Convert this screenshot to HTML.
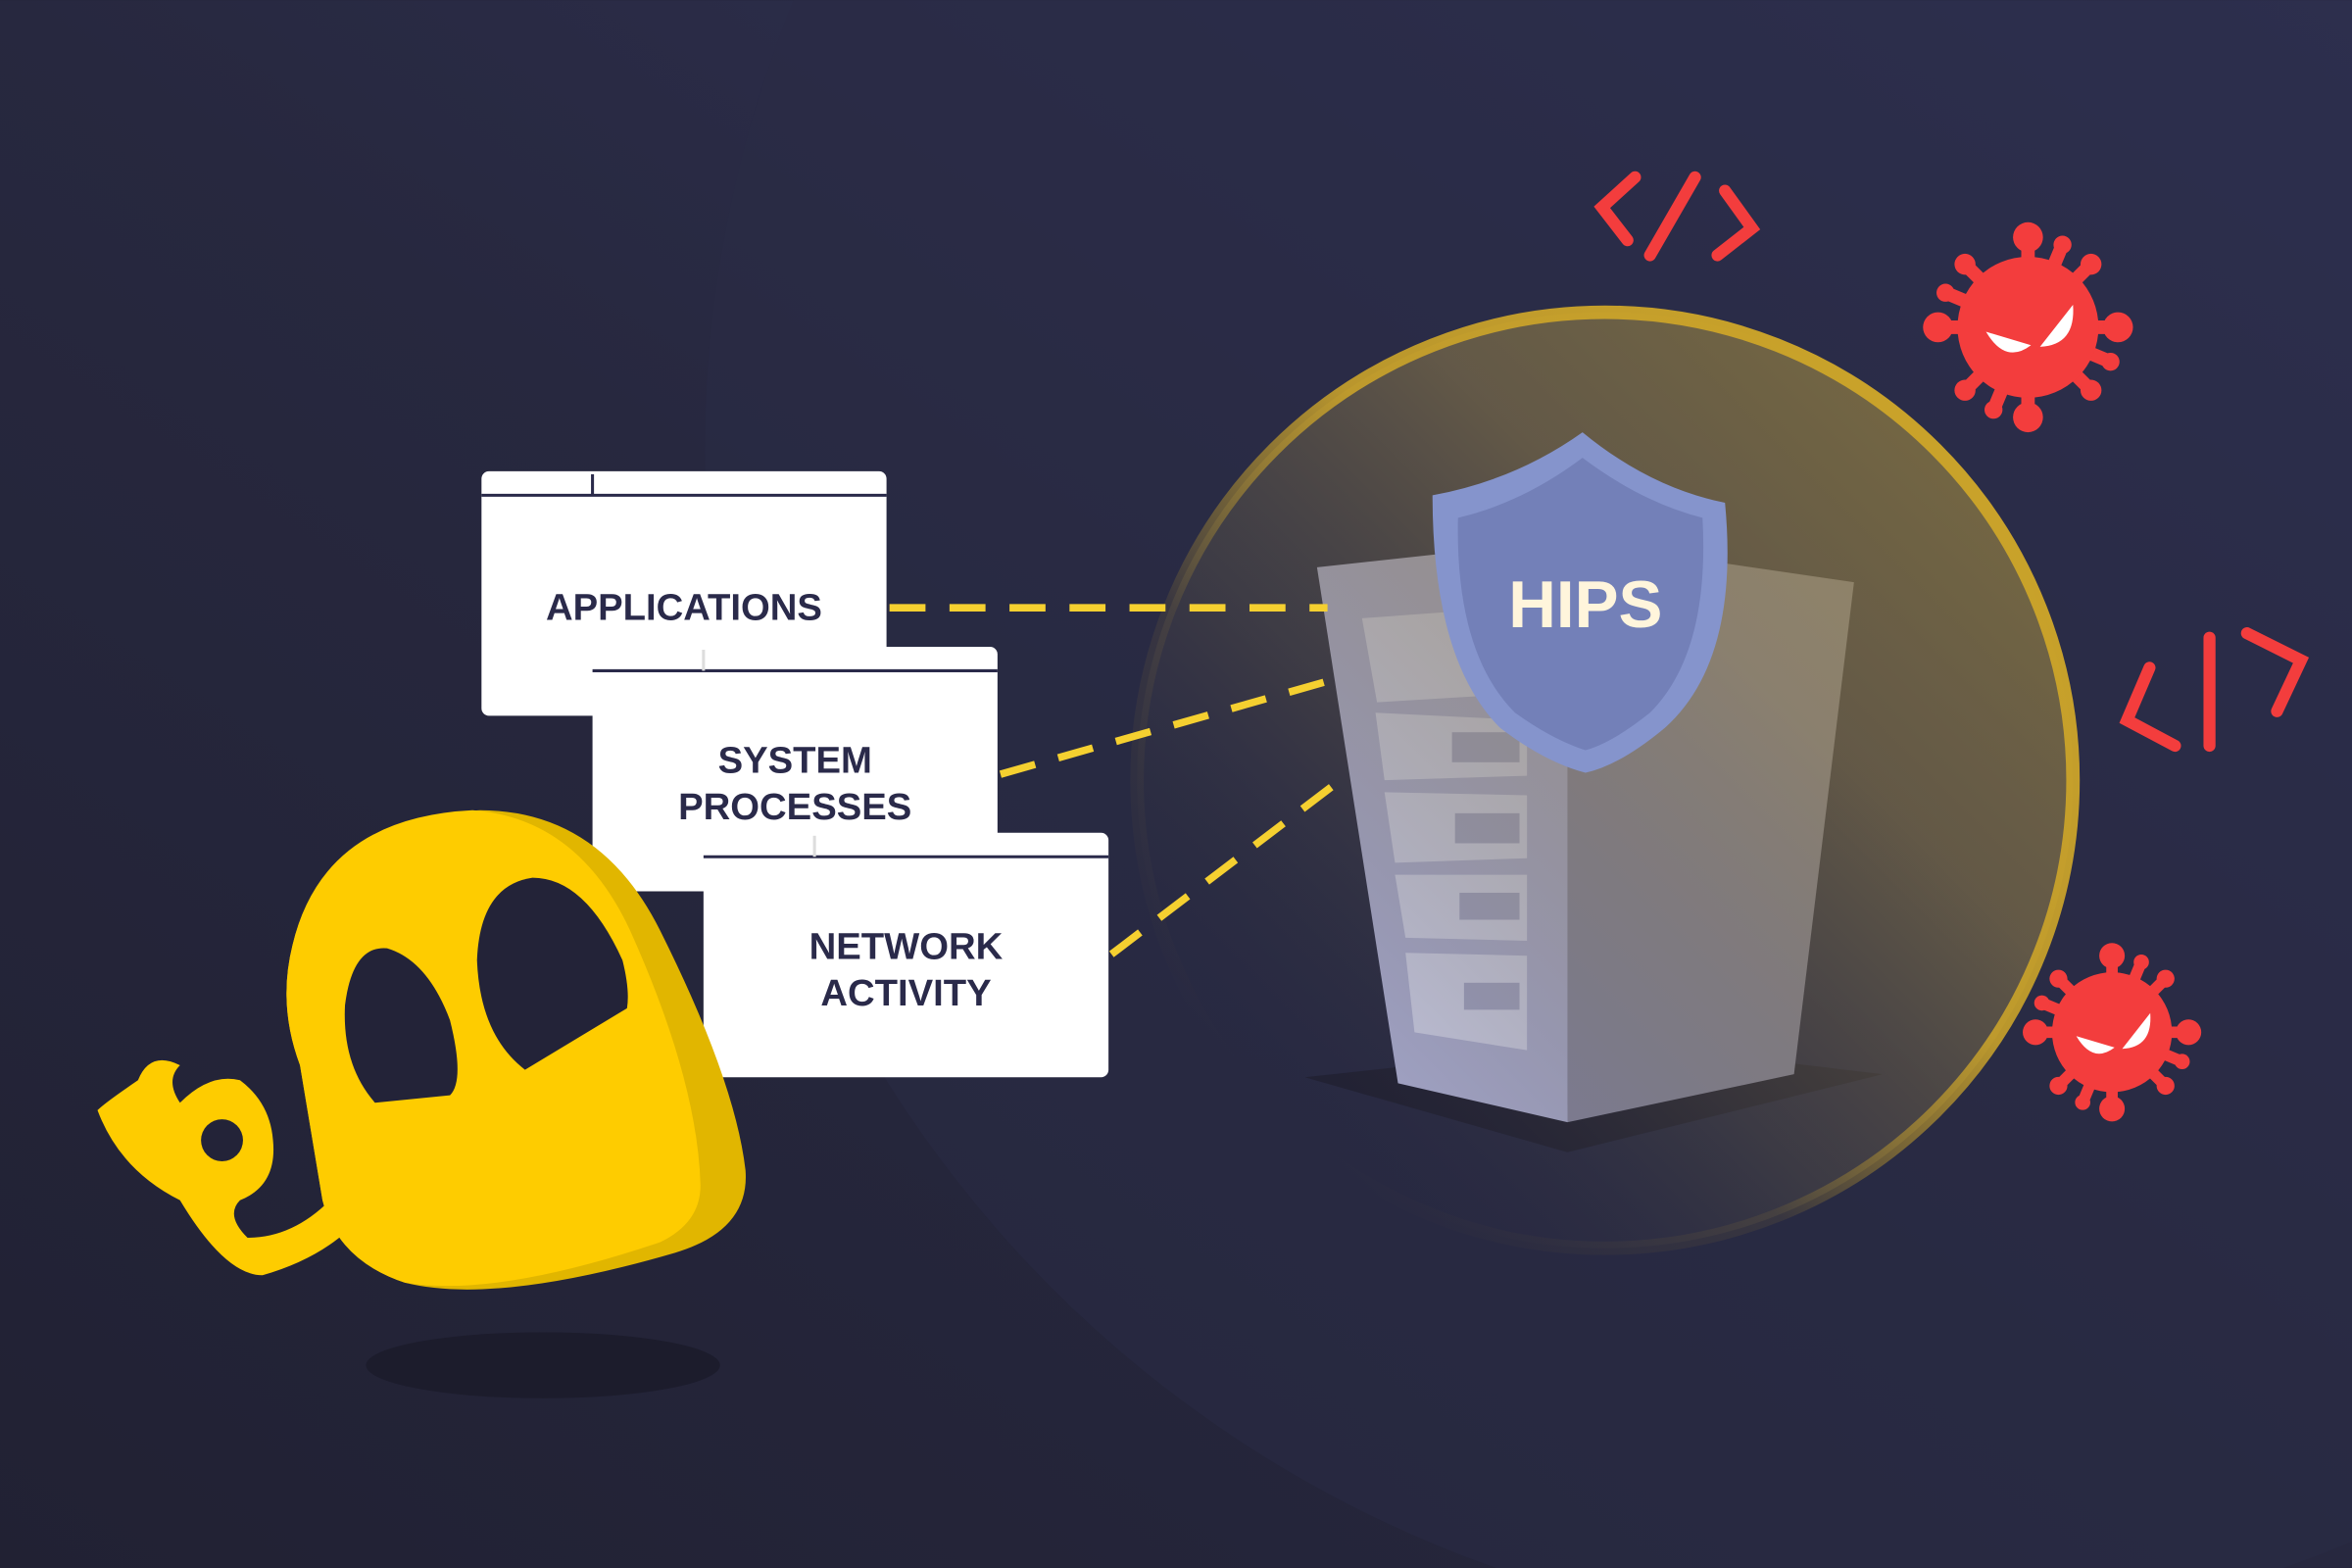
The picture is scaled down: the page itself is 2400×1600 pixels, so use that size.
<!DOCTYPE html>
<html><head><meta charset="utf-8"><style>
html,body{margin:0;padding:0;width:2400px;height:1600px;overflow:hidden;background:#232338}
svg{display:block}
</style></head><body>
<svg width="2400" height="1600" viewBox="0 0 1568 1045" xmlns="http://www.w3.org/2000/svg">
<defs>
<linearGradient id="bg" x1="0" y1="1" x2="1" y2="0">
<stop offset="0" stop-color="#212133"/><stop offset="0.5" stop-color="#27283f"/><stop offset="1" stop-color="#313358"/>
</linearGradient>
<linearGradient id="bub" x1="0.15" y1="0.85" x2="0.85" y2="0.15">
<stop offset="0" stop-color="#2c2c44" stop-opacity="0"/><stop offset="0.35" stop-color="#6a6048" stop-opacity="0.4"/><stop offset="0.7" stop-color="#8f7c48" stop-opacity="0.75"/><stop offset="1" stop-color="#9c8640" stop-opacity="0.85"/>
</linearGradient>
<linearGradient id="ring" x1="0.15" y1="0.85" x2="0.85" y2="0.15">
<stop offset="0" stop-color="#c9a22a" stop-opacity="0"/><stop offset="0.3" stop-color="#c9a22a" stop-opacity="0.1"/><stop offset="0.6" stop-color="#c9a22a" stop-opacity="0.9"/><stop offset="1" stop-color="#c9a22a"/>
</linearGradient>
<g id="virus">
<g stroke="#f33d3d" stroke-width="9" stroke-linecap="round">
<line x1="0" y1="0" x2="0" y2="-60"/><line x1="0" y1="0" x2="42" y2="-42"/><line x1="0" y1="0" x2="60" y2="0"/><line x1="0" y1="0" x2="42" y2="42"/>
<line x1="0" y1="0" x2="0" y2="60"/><line x1="0" y1="0" x2="-42" y2="42"/><line x1="0" y1="0" x2="-60" y2="0"/><line x1="0" y1="0" x2="-42" y2="-42"/>
<line x1="0" y1="0" x2="23" y2="-55"/><line x1="0" y1="0" x2="55" y2="23"/><line x1="0" y1="0" x2="-23" y2="55"/><line x1="0" y1="0" x2="-55" y2="-23"/>
</g>
<circle r="47" fill="#f33d3d"/>
<g fill="#f33d3d"><circle cy="-60" r="10"/><circle cx="42" cy="-42" r="7"/><circle cx="60" r="10"/><circle cx="42" cy="42" r="7"/><circle cy="60" r="10"/><circle cx="-42" cy="42" r="7"/><circle cx="-60" r="10"/><circle cx="-42" cy="-42" r="7"/>
<circle cx="23" cy="-55" r="6"/><circle cx="55" cy="23" r="6"/><circle cx="-23" cy="55" r="6"/><circle cx="-55" cy="-23" r="6"/></g>
<path d="M-28 3 L2 12 Q-15 25 -28 3 Z" fill="#fff"/><path d="M30 -15 Q32 12 8 13 Z" fill="#fff"/>
</g>
</defs>
<rect width="1568" height="1045" fill="url(#bg)"/>
<circle cx="1260" cy="300" r="790" fill="#2a2b45" opacity="0.55"/>
<ellipse cx="362" cy="910" rx="118" ry="22" fill="#1c1c2c"/>

<!-- server -->
<polygon points="870,718 1045,768 1255,716 1080,695" fill="#1e1e2e" opacity="0.7"/>
<polygon points="878,378 1045,360 1045,748 932,722" fill="#a8aacd"/>
<polygon points="1045,360 1236,388 1196,716 1045,748" fill="#85859f"/>
<g fill="#c9cbe3">
<polygon points="908,412 1018,404 1018,462 918,468"/>
<polygon points="917,475 1018,480 1018,517 923,520"/>
<polygon points="923,528 1018,530 1018,572 930,575"/>
<polygon points="930,583 1018,583 1018,627 937,625"/>
<polygon points="937,635 1018,637 1018,700 943,688"/>
</g>
<g fill="#9fa1c2">
<rect x="968" y="488" width="45" height="20"/><rect x="970" y="542" width="43" height="20"/><rect x="973" y="595" width="40" height="18"/><rect x="976" y="655" width="37" height="18"/>
</g>

<!-- bubble overlay -->
<circle cx="1070" cy="520" r="312" fill="url(#bub)" opacity="0.75"/>
<circle cx="1070" cy="520" r="312" fill="none" stroke="url(#ring)" stroke-width="9"/>

<!-- dashed lines -->
<g stroke="#f5d030" stroke-width="5" stroke-dasharray="24 16" fill="none">
<line x1="593" y1="405" x2="885" y2="405"/>
<line x1="667" y1="516" x2="892" y2="452"/>
<line x1="741" y1="636" x2="900" y2="515"/>
</g>

<!-- shield -->
<path d="M1055 288 Q1100 325 1150 335 Q1160 440 1110 485 Q1080 510 1057 515 Q1030 508 1000 485 Q955 440 955 330 Q1010 320 1055 288 Z" fill="#8594cc"/>
<path d="M1055 305 Q1095 335 1135 345 Q1140 435 1100 475 Q1075 495 1057 500 Q1035 493 1010 475 Q970 435 972 345 Q1015 335 1055 305 Z" fill="#7380b8"/>
<text x="1057" y="418" text-anchor="middle" font-family="Liberation Sans, sans-serif" font-weight="bold" font-size="44" fill="#fff5dc">HIPS</text>

<!-- windows -->
<g font-family="Liberation Sans, sans-serif" font-weight="bold" font-size="25" fill="#2a2a4a" text-anchor="middle">
<rect x="321" y="314" width="270" height="163" rx="5" fill="#fff"/>
<line x1="321" y1="330" x2="591" y2="330" stroke="#2a2a4a" stroke-width="2"/><line x1="395" y1="316" x2="395" y2="330" stroke="#2a2a4a" stroke-width="2"/>
<text x="456" y="413">APPLICATIONS</text>
<rect x="395" y="431" width="270" height="163" rx="5" fill="#fff"/>
<line x1="395" y1="447" x2="665" y2="447" stroke="#2a2a4a" stroke-width="2"/><line x1="469" y1="433" x2="469" y2="447" stroke="#ddd" stroke-width="2"/>
<text x="530" y="515">SYSTEM</text><text x="530" y="546">PROCESSES</text>
<rect x="469" y="555" width="270" height="163" rx="5" fill="#fff"/>
<line x1="469" y1="571" x2="739" y2="571" stroke="#2a2a4a" stroke-width="2"/><line x1="543" y1="557" x2="543" y2="571" stroke="#ddd" stroke-width="2"/>
<text x="604" y="639">NETWORK</text><text x="604" y="670">ACTIVITY</text>
</g>

<!-- character -->
<path d="M320 540 Q400 540 440 620 Q490 720 497 780 Q500 820 450 835 Q330 870 270 855 Q225 840 215 800 Q205 740 200 710 Q185 670 195 630 Q215 545 320 540 Z" fill="#e1b600"/>
<path d="M315 540 Q385 545 420 620 Q465 720 467 790 Q467 815 440 828 Q330 865 270 855 Q225 840 215 800 Q205 740 200 710 Q185 670 195 630 Q215 545 315 540 Z" fill="#fecc00"/>
<path d="M120 710 Q100 700 92 720 Q70 735 65 740 Q80 780 120 800 Q150 850 175 850 Q210 840 232 820 L220 800 Q195 825 165 825 Q150 810 160 800 Q185 790 182 760 Q180 735 160 720 Q140 715 120 735 Q110 720 120 710 Z" fill="#fecc00"/>
<ellipse cx="148" cy="760" rx="14" ry="14" fill="#232338"/>
<path d="M258 632 Q285 640 300 680 Q310 720 300 730 L250 735 Q228 710 230 670 Q235 630 258 632 Z" fill="#232338"/>
<path d="M355 585 Q390 585 415 640 Q420 660 418 672 L350 713 Q320 690 318 640 Q320 590 355 585 Z" fill="#232338"/>

<!-- code brackets -->
<g stroke="#f33d3d" stroke-width="8" stroke-linecap="round" fill="none">
<polyline points="1090,118 1068,138 1085,160"/><line x1="1100" y1="170" x2="1130" y2="118"/><polyline points="1150,127 1168,152 1145,170"/>
<polyline points="1433,445 1418,480 1450,497"/><line x1="1473" y1="425" x2="1473" y2="497"/><polyline points="1498,422 1534,440 1518,474"/>
</g>
<use href="#virus" x="1352" y="218"/>
<use href="#virus" transform="translate(1408,688) scale(0.85)"/>
</svg>
</body></html>
